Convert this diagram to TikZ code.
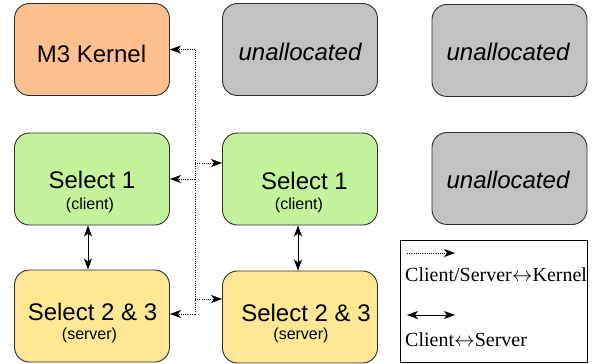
\documentclass[tikz,border=0pt]{standalone}
\usepackage{fontspec}
\setmainfont{Liberation Serif}
\setsansfont{Liberation Sans}
\usepackage{xcolor}
\usetikzlibrary{arrows.meta, positioning}

\definecolor{kernelfill}{RGB}{255,191,143}
\definecolor{clientfill}{RGB}{196,243,155}
\definecolor{serverfill}{RGB}{255,232,148}
\definecolor{freefill}{RGB}{194,194,194}
\definecolor{edgegray}{RGB}{45,45,45}

\begin{document}
\begin{tikzpicture}[
        x=1pt, y=-1pt,
        >={Stealth[length=11pt, width=8pt, inset=3pt]},
        tile/.style={rectangle, draw=edgegray, line width=0.9pt, rounded corners=15pt, minimum width=155pt, minimum height=92pt},
        heading/.style={anchor=base, inner sep=0pt, font=\sffamily\fontsize{24}{28}\selectfont},
        freetext/.style={anchor=base, inner sep=0pt, font=\sffamily\itshape\fontsize{24}{28}\selectfont},
        role/.style={anchor=base, inner sep=0pt, font=\sffamily\fontsize{16}{19}\selectfont},
        keytext/.style={anchor=base west, inner sep=0pt, font=\fontsize{20}{24}\selectfont},
        link/.style={->, line width=0.9pt, dash pattern=on 1pt off 1.2pt},
        busline/.style={line width=0.9pt, dash pattern=on 1pt off 1.2pt},
        pair/.style={<->, line width=0.9pt}
    ]
        \useasboundingbox (0,0) rectangle (592,364);

        \node[tile, fill=kernelfill] (kernel) at (92,49.5) {};
        \node[tile, fill=freefill] (free1) at (300,49.5) {};
        \node[tile, fill=freefill] (free2) at (509.5,50.5) {};
        \node[tile, fill=clientfill] (client1) at (92,179) {};
        \node[tile, fill=clientfill] (client2) at (300,179) {};
        \node[tile, fill=freefill] (free3) at (509.5,178.5) {};
        \node[tile, fill=serverfill] (server1) at (92,316) {};
        \node[tile, fill=serverfill] (server2) at (300,317) {};

        \node[heading] (kernelname) at (91.5,62) {M3 Kernel};
        \node[freetext] (free1name) at (300,60) {unallocated};
        \node[freetext] (free2name) at (508,60) {unallocated};
        \node[freetext] (free3name) at (508,188) {unallocated};
        \node[heading] (client1name) at (92,188) {Select 1};
        \node[role] (client1role) at (90,209) {(client)};
        \node[heading] (client2name) at (304.5,189) {Select 1};
        \node[role] (client2role) at (299,209) {(client)};
        \node[heading] (server1name) at (92.5,320) {Select 2 \& 3};
        \node[role] (server1role) at (89.5,339.5) {(server)};
        \node[heading] (server2name) at (306,321) {Select 2 \& 3};
        \node[role] (server2role) at (301,339.5) {(server)};

        % kernel bus between the two columns
        \coordinate (bus) at (195,0);
        \coordinate (client2in) at ([yshift=16pt]client2.west);
        \coordinate (server2in) at ([yshift=18pt]server2.west);
        \coordinate (server1out) at ([yshift=2pt]server1.east);
        \draw[busline] (kernel.east -| bus) -- (server1out -| bus);
        \draw[link] (kernel.east -| bus) -- (kernel.east);
        \draw[link] (client1.east -| bus) -- (client1.east);
        \draw[link] (client2in -| bus) -- (client2in);
        \draw[link] (server2in -| bus) -- (server2in);
        \draw[link] (server1out -| bus) -- (server1out);

        \draw[pair] ([xshift=-4pt]client1.south) -- ([xshift=-4pt]server1.north);
        \draw[pair] ([xshift=-2pt]client2.south) -- ([xshift=-2pt]server2.north);

        % legend
        \node[draw, line width=0.9pt, minimum width=187pt, minimum height=122pt, inner sep=0pt] (legend) at (493.5,301.5) {};
        \coordinate (dotkeyA) at (407,253);
        \coordinate (dotkeyB) at (455,253);
        \coordinate (pairkeyA) at (407,315);
        \coordinate (pairkeyB) at (455,315);
        \draw[link] (dotkeyA) -- (dotkeyB);
        \draw[pair] (pairkeyA) -- (pairkeyB);
        \node[keytext] (dotlabel) at (405,281) {Client/Server$\leftrightarrow$Kernel};
        \node[keytext] (pairlabel) at (405,346) {Client$\leftrightarrow$Server};
    \end{tikzpicture}
\end{document}
